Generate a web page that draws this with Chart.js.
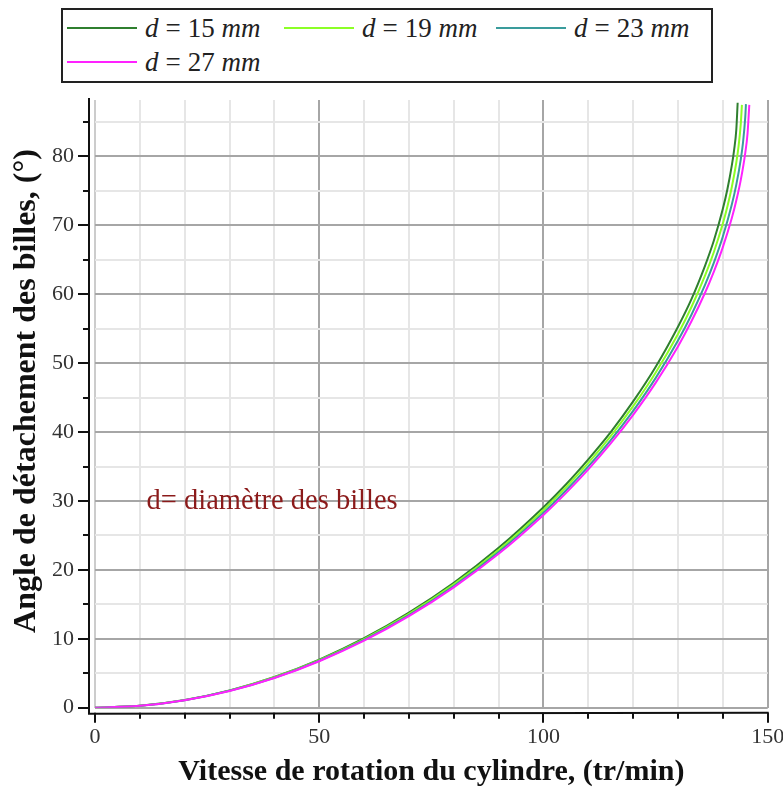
<!DOCTYPE html>
<html>
<head>
<meta charset="utf-8">
<script src="https://cdn.jsdelivr.net/npm/chart.js@4.4.0/dist/chart.umd.min.js"></script>
<style>
  html, body { margin: 0; padding: 0; background: #fff; }
  #wrap { position: relative; width: 783px; height: 787px; }
  #legende {
    position: absolute; left: 61px; top: 8px; width: 648px; height: 71px;
    border: 2px solid #222; background: #fff;
    font-family: "Liberation Serif", serif; font-size: 27px; color: #222;
  }
  .item { position: absolute; display: flex; align-items: center; height: 30px; white-space: nowrap; }
  .trait { width: 70px; height: 2px; margin-right: 8px; }
  .item i { font-style: italic; }
  .item .eg { margin: 0 7px; }
</style>
</head>
<body>
<div id="wrap">
  <canvas id="graphe" width="783" height="787"></canvas>
  <div id="legende"></div>
</div>
<script>
// diamètres des billes (mm) et couleurs des courbes
const diametres = [15, 19, 23, 27];
const couleurs = ["#2f7f2f", "#8cff26", "#3a9c9c", "#ff22ff"];

// vitesse de rotation (tr/min) et angle de détachement (°) pour chaque diamètre
const vitesse15 = [0, 10, 20, 30, 40, 50, 60, 70, 80, 90, 100, 105, 110, 115, 120, 125, 130, 133, 136, 138, 140, 141, 142, 142.5, 143, 143.3];
const angle15 = [0, 0.28, 1.11, 2.51, 4.46, 6.98, 10.08, 13.79, 18.13, 23.2, 29.1, 32.4, 36.05, 40.0, 44.45, 49.45, 55.3, 59.3, 64.1, 67.8, 72.4, 75.2, 78.7, 80.9, 83.9, 87.8];

const vitesse19 = [0, 10, 20, 30, 40, 50, 60, 70, 80, 90, 100, 105, 110, 115, 120, 125, 130, 133, 136, 138, 140, 141, 142, 143, 143.5, 144, 144.25];
const angle19 = [0, 0.28, 1.10, 2.48, 4.41, 6.90, 9.96, 13.61, 17.90, 22.89, 28.70, 31.97, 35.53, 39.43, 43.76, 48.62, 54.25, 58.16, 62.67, 66.14, 70.27, 72.7, 75.57, 79.13, 81.47, 84.77, 87.5];

const vitesse23 = [0, 10, 20, 30, 40, 50, 60, 70, 80, 90, 100, 105, 110, 115, 120, 125, 130, 133, 136, 138, 140, 142, 143, 144, 144.5, 145, 145.15];
const angle23 = [0, 0.27, 1.09, 2.45, 4.35, 6.81, 9.83, 13.44, 17.67, 22.60, 28.31, 31.53, 35.03, 38.85, 43.08, 47.83, 53.28, 57.04, 61.33, 64.60, 68.39, 73.03, 75.92, 79.59, 82.05, 85.75, 87.6];

const vitesse27 = [0, 10, 20, 30, 40, 50, 60, 70, 80, 90, 100, 105, 110, 115, 120, 125, 130, 133, 136, 138, 140, 142, 143, 144, 145, 145.5, 145.9];
const angle27 = [0, 0.27, 1.08, 2.42, 4.30, 6.74, 9.72, 13.29, 17.47, 22.33, 27.98, 31.14, 34.59, 38.35, 42.50, 47.14, 52.44, 56.08, 60.19, 63.30, 66.85, 71.06, 73.60, 76.60, 80.52, 83.30, 87.5];

const vitesses = [vitesse15, vitesse19, vitesse23, vitesse27];
const angles = [angle15, angle19, angle23, angle27];

// graduations
const xLabels = [0, 50, 100, 150];
const yLabels = [0, 10, 20, 30, 40, 50, 60, 70, 80];

const titreX = "Vitesse de rotation du cylindre, (tr/min)";
const titreY = "Angle de détachement des billes, (°)";
const note = "d= diamètre des billes";

const police = "Liberation Serif";

function points(xs, ys) {
  return xs.map((x, i) => ({ x: x, y: ys[i] }));
}

// axes décalés, petites graduations, titres et note
const decor = {
  id: "decor",
  afterDraw(chart) {
    const c = chart.ctx;
    const a = chart.chartArea;
    const sx = chart.scales.x;
    const sy = chart.scales.y;
    const ax = a.left - 6;
    const ay = a.bottom + 5;
    c.save();
    c.strokeStyle = "#111";
    c.lineWidth = 2;
    c.beginPath();
    c.moveTo(ax, a.top - 2);
    c.lineTo(ax, ay + 1);
    c.lineTo(a.right + 1, ay);
    c.stroke();
    // graduations verticales
    for (let v = 0; v <= 85; v += 5) {
      const y = Math.round(sy.getPixelForValue(v));
      c.beginPath();
      c.moveTo(ax - (v % 10 === 0 ? 11 : 6), y);
      c.lineTo(ax, y);
      c.stroke();
    }
    // graduations horizontales
    for (let v = 0; v <= 150; v += 10) {
      const x = Math.round(sx.getPixelForValue(v));
      c.beginPath();
      c.moveTo(x, ay);
      c.lineTo(x, ay + (v % 50 === 0 ? 10 : 6));
      c.stroke();
    }
    c.fillStyle = "#111";
    c.font = "bold 30px '" + police + "'";
    c.textAlign = "center";
    c.textBaseline = "middle";
    c.fillText(titreX, (a.left + a.right) / 2, 772);
    c.save();
    c.translate(27, 391);
    c.rotate(-Math.PI / 2);
    c.font = "bold 32px '" + police + "'";
    c.fillText(titreY, 0, 0);
    c.restore();
    c.fillStyle = "#8b1a1a";
    c.font = "28.5px '" + police + "'";
    c.textAlign = "left";
    c.textBaseline = "alphabetic";
    c.fillText(note, sx.getPixelForValue(11.5), sy.getPixelForValue(30) + 8);
    c.restore();
  }
};

const ctx = document.getElementById("graphe").getContext("2d");
const graphe = new Chart(ctx, {
  type: "scatter",
  data: {
    datasets: diametres.map((d, i) => ({
      label: "d = " + d + " mm",
      data: points(vitesses[i], angles[i]),
      showLine: true,
      borderColor: couleurs[i],
      backgroundColor: couleurs[i],
      borderWidth: 2,
      pointRadius: 0,
      cubicInterpolationMode: "monotone",
      order: diametres.length - i
    }))
  },
  options: {
    responsive: false,
    animation: false,
    layout: { padding: { top: 100, right: 15.3, left: 0, bottom: 0 } },
    plugins: { legend: { display: false }, tooltip: { enabled: false } },
    scales: {
      x: {
        type: "linear",
        min: 0,
        max: 150,
        border: { display: false },
        grid: {
          drawTicks: false,
          tickLength: 0,
          lineWidth: 2,
          color: (c) => c.tick.value === 0 ? "#cccccc" : (c.tick.value % 50 === 0 ? "#a6a6a6" : "#e6e6e6")
        },
        ticks: {
          stepSize: 10,
          autoSkip: false,
          maxRotation: 0,
          padding: 16,
          color: "#333",
          font: { family: police, size: 22 },
          callback: (v) => xLabels.includes(v) ? v : ""
        },
        afterFit(s) { s.height = 79.3; s.paddingLeft = 0; s.paddingRight = 0; }
      },
      y: {
        type: "linear",
        min: 0,
        max: 88.2,
        border: { display: false },
        grid: {
          drawTicks: false,
          tickLength: 0,
          lineWidth: 2,
          color: (c) => c.tick.value % 10 === 0 ? "#a6a6a6" : "#e6e6e6"
        },
        ticks: {
          stepSize: 5,
          includeBounds: false,
          autoSkip: false,
          padding: 21,
          color: "#333",
          font: { family: police, size: 22 },
          callback: (v) => yLabels.includes(v) ? v : ""
        },
        afterFit(s) { s.width = 95; s.paddingTop = 0; s.paddingBottom = 0; }
      }
    }
  },
  plugins: [decor]
});

// légende encadrée, d et mm en italique
const legende = document.getElementById("legende");
const placeX = [4, 221, 433, 4];
const placeY = [3, 3, 3, 37];
diametres.forEach((d, i) => {
  const item = document.createElement("div");
  item.className = "item";
  item.style.left = placeX[i] + "px";
  item.style.top = placeY[i] + "px";
  item.innerHTML = '<span class="trait" style="background:' + couleurs[i] + '"></span>' +
    '<i>d</i><span class="eg">=</span>' + d + "&nbsp;<i>mm</i>";
  legende.appendChild(item);
});
</script>
</body>
</html>
